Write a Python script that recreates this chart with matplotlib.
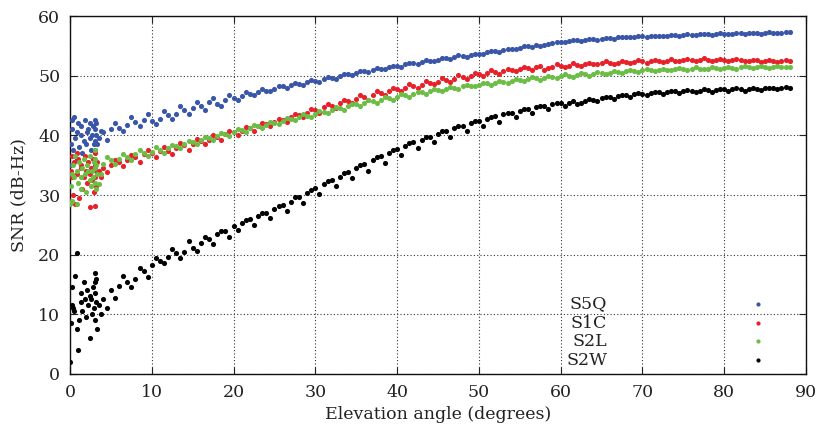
"""SNR vs elevation angle for four GPS signals (gnuplot-like scatter)."""
import matplotlib
matplotlib.use("Agg")
import matplotlib.pyplot as plt

# low-elevation cluster, shared by all signals (degrees)
elev_low = [0.0, 0.1, 0.2, 0.3, 0.4, 0.5, 0.6, 0.8, 0.9, 1.0, 1.1, 1.3, 1.4, 1.5, 1.7, 1.8, 2.0,
            2.1, 2.2, 2.4, 2.5, 2.6, 2.7, 2.8, 2.9, 3.0, 3.0, 3.1, 3.1, 3.2, 3.2, 3.3, 3.5, 3.8]
# first pass of the track
elev_a = [4, 5, 6, 7, 8, 9, 10, 11, 12, 13, 14, 15, 16, 17, 18, 19, 20, 21, 22, 23, 24, 25, 26,
          27, 28, 29, 30, 31, 32, 33, 34, 35, 36, 37, 38, 39, 40, 41, 42, 43, 44, 45, 46, 47, 48,
          49, 50, 51, 52, 53, 54, 55, 56, 57, 58, 59, 60, 61, 62, 63, 64, 65, 66, 67, 68, 69, 70,
          71, 72, 73, 74, 75, 76, 77, 78, 79, 80, 81, 82, 83, 84, 85, 86, 87, 88]
# second pass, in between
elev_b = [4.5, 5.5, 6.5, 7.5, 8.5, 9.5, 10.5, 11.5, 12.5, 13.5, 14.5, 15.5, 16.5, 17.5, 18.5,
          19.5, 20.5, 21.5, 22.5, 23.5, 24.5, 25.5, 26.5, 27.5, 28.5, 29.5, 30.5, 31.5, 32.5,
          33.5, 34.5, 35.5, 36.5, 37.5, 38.5, 39.5, 40.5, 41.5, 42.5, 43.5, 44.5, 45.5, 46.5,
          47.5, 48.5, 49.5, 50.5, 51.5, 52.5, 53.5, 54.5, 55.5, 56.5, 57.5, 58.5, 59.5, 60.5,
          61.5, 62.5, 63.5, 64.5, 65.5, 66.5, 67.5, 68.5, 69.5, 70.5, 71.5, 72.5, 73.5, 74.5,
          75.5, 76.5, 77.5, 78.5, 79.5, 80.5, 81.5, 82.5, 83.5, 84.5, 85.5, 86.5, 87.5]

s5q_low = [35.0, 38.5, 42.5, 41.0, 37.5, 43.0, 39.5, 40.5, 36.0, 42.0, 38.0, 40.0, 41.5, 37.0, 39.0,
           42.5, 38.5, 40.5, 41.0, 39.5, 42.0, 37.5, 40.0, 41.5, 38.5, 42.5, 39.0, 41.0, 37.5, 40.0,
           42.0, 38.5, 39.5, 40.8]
s5q_a = [40.5, 41.0, 41.3, 41.8, 42.2, 42.6, 42.4, 42.8, 43.4, 43.5, 44.2, 44.6, 44.9, 45.6, 45.2,
         46.0, 46.3, 46.6, 46.9, 47.3, 47.5, 47.8, 48.2, 48.4, 48.6, 48.9, 49.1, 49.4, 49.6, 49.9,
         50.2, 50.4, 50.7, 50.9, 51.2, 51.4, 51.6, 51.9, 52.1, 52.3, 52.5, 52.7, 52.9, 53.1, 53.3,
         53.5, 53.7, 53.9, 54.1, 54.3, 54.5, 54.7, 54.9, 55.2, 55.1, 55.4, 55.7, 55.8, 55.9, 56.0,
         56.1, 56.2, 56.3, 56.4, 56.5, 56.5, 56.6, 56.6, 56.7, 56.7, 56.8, 56.8, 56.8, 56.9, 56.9,
         57.0, 57.0, 57.0, 57.1, 57.1, 57.1, 57.2, 57.1, 57.2, 57.3]
s5q_b = [39.2, 42.0, 40.8, 43.0, 41.6, 43.6, 41.9, 44.0, 42.8, 45.0, 43.6, 45.6, 44.3, 46.2, 45.0,
         46.8, 45.9, 47.2, 46.7, 47.7, 47.4, 48.3, 48.0, 48.8, 48.5, 49.3, 49.0, 49.7, 49.5, 50.3,
         50.1, 50.8, 50.6, 51.3, 51.1, 51.7, 51.5, 52.2, 52.0, 52.6, 52.4, 52.9, 52.8, 53.4, 53.2,
         53.7, 53.6, 54.1, 54.0, 54.5, 54.4, 54.9, 54.8, 55.0, 55.3, 55.6, 55.6, 55.9, 55.8, 56.1,
         56.0, 56.3, 56.2, 56.5, 56.4, 56.6, 56.5, 56.7, 56.6, 56.8, 56.7, 56.9, 56.8, 57.0, 56.8,
         57.1, 56.9, 57.1, 57.0, 57.2, 57.0, 57.3, 57.1, 57.3]

s1c_low = [29.0, 34.0, 36.5, 33.0, 30.0, 35.5, 28.5, 37.0, 33.5, 36.0, 29.5, 34.5, 35.0, 31.0, 33.0,
           36.5, 34.0, 32.0, 35.5, 33.5, 28.0, 34.5, 32.5, 36.0, 30.5, 35.0, 33.0, 37.0, 28.2, 34.0,
           31.5, 35.5, 34.0, 33.0]
s1c_a = [34.5, 35.0, 35.6, 35.8, 36.3, 36.8, 37.0, 37.4, 37.3, 37.9, 38.3, 38.6, 39.0, 39.3, 39.8,
         40.2, 40.5, 40.8, 41.2, 41.5, 41.9, 42.2, 42.6, 43.0, 43.4, 43.8, 44.3, 44.7, 45.0, 45.4,
         45.7, 46.1, 46.4, 46.8, 47.1, 47.4, 47.7, 48.0, 48.3, 48.5, 48.8, 49.0, 49.3, 49.5, 49.8,
         50.0, 50.2, 50.4, 50.6, 50.8, 51.0, 51.2, 51.3, 51.4, 51.0, 51.5, 51.6, 51.7, 51.8, 51.9,
         52.0, 52.1, 52.1, 52.2, 52.3, 52.3, 52.4, 52.4, 52.5, 52.5, 52.5, 52.6, 52.6, 52.6, 52.7,
         52.6, 52.6, 52.7, 52.6, 52.5, 52.6, 52.4, 52.5, 52.4, 52.4]
s1c_b = [33.8, 35.9, 34.9, 36.7, 35.6, 37.6, 36.3, 38.1, 36.9, 38.7, 37.6, 39.4, 38.5, 40.0, 39.2,
         40.8, 40.0, 41.4, 40.8, 42.1, 41.6, 42.8, 42.3, 43.6, 43.1, 44.4, 43.8, 45.3, 44.6, 46.0,
         45.4, 46.7, 46.0, 47.4, 46.8, 48.0, 47.4, 48.6, 48.0, 49.1, 48.6, 49.6, 49.0, 50.1, 49.5,
         50.5, 50.0, 50.9, 50.3, 51.2, 50.7, 51.5, 51.0, 51.7, 51.3, 51.9, 51.5, 52.1, 51.7, 52.2,
         51.9, 52.4, 52.0, 52.5, 52.1, 52.6, 52.2, 52.7, 52.3, 52.8, 52.4, 52.8, 52.4, 52.9, 52.5,
         52.8, 52.4, 52.8, 52.4, 52.7, 52.3, 52.7, 52.3, 52.6]

s2l_low = [28.5, 31.5, 33.5, 29.0, 35.0, 33.0, 36.5, 28.5, 34.0, 32.0, 35.5, 33.0, 31.0, 34.5, 36.0,
           33.5, 30.5, 35.0, 34.0, 32.5, 36.5, 31.5, 34.0, 33.0, 35.5, 37.5, 32.0, 34.5, 36.0, 31.0,
           35.0, 33.5, 31.8, 33.5]
s2l_a = [35.2, 35.8, 36.0, 36.4, 36.8, 37.0, 37.2, 37.5, 37.8, 38.2, 38.5, 38.8, 39.2, 39.5, 39.9,
         40.2, 40.6, 40.9, 41.2, 41.5, 41.8, 42.1, 42.4, 42.7, 43.0, 43.3, 43.6, 43.9, 44.3, 44.6,
         44.9, 45.2, 45.5, 45.8, 46.0, 46.3, 46.5, 46.8, 47.0, 47.2, 47.4, 47.6, 47.8, 48.0, 48.2,
         48.3, 48.5, 48.7, 48.8, 49.0, 49.1, 49.3, 49.4, 49.6, 49.6, 49.8, 49.9, 50.0, 50.1, 50.2,
         50.3, 50.4, 50.5, 50.6, 50.7, 50.8, 50.9, 50.9, 51.0, 51.0, 51.1, 51.1, 51.2, 51.2, 51.2,
         51.3, 51.3, 51.3, 51.4, 51.4, 51.4, 51.5, 51.5, 51.5, 51.5]
s2l_b = [36.3, 35.2, 36.9, 35.9, 37.5, 36.6, 38.0, 37.1, 38.4, 37.8, 39.0, 38.5, 39.7, 39.2, 40.4,
         39.9, 41.1, 40.6, 41.7, 41.2, 42.3, 41.9, 42.9, 42.5, 43.5, 43.1, 44.1, 43.7, 44.7, 44.3,
         45.3, 44.9, 45.9, 45.5, 46.4, 46.0, 46.9, 46.5, 47.3, 47.0, 47.7, 47.4, 48.1, 47.8, 48.5,
         48.2, 48.8, 48.5, 49.1, 48.8, 49.4, 49.1, 49.7, 49.3, 49.9, 49.6, 50.2, 49.8, 50.4, 50.0,
         50.6, 50.2, 50.8, 50.4, 50.9, 50.6, 51.1, 50.7, 51.2, 50.9, 51.3, 51.0, 51.4, 51.1, 51.5,
         51.1, 51.5, 51.2, 51.6, 51.3, 51.7, 51.3, 51.7, 51.4]

s2w_low = [2.0, 8.5, 11.5, 14.5, 11.0, 10.5, 16.5, 20.2, 7.5, 4.0, 9.0, 12.0, 13.5, 10.5, 15.5,
           12.5, 9.5, 14.0, 11.5, 13.0, 6.0, 12.5, 10.0, 14.5, 11.0, 17.0, 13.5, 9.0, 15.5, 12.0,
           16.0, 7.5, 11.5, 10.0]
s2w_a = [12.5, 14.0, 14.8, 15.5, 16.0, 17.2, 18.2, 19.0, 19.6, 20.2, 20.5, 21.2, 22.0, 22.6, 23.4,
         24.0, 24.8, 25.3, 25.9, 26.5, 27.0, 27.6, 28.3, 28.9, 29.7, 30.4, 31.2, 31.8, 32.5, 33.1,
         33.8, 34.5, 35.2, 35.8, 36.5, 37.1, 37.7, 38.2, 38.8, 39.3, 39.8, 40.3, 40.7, 41.2, 41.6,
         42.0, 42.4, 42.8, 43.2, 43.5, 43.8, 44.1, 44.4, 44.7, 45.0, 45.2, 45.4, 45.5, 45.3, 45.8,
         46.0, 46.2, 46.4, 46.6, 46.8, 46.9, 47.0, 47.1, 47.2, 47.3, 47.4, 47.4, 47.5, 47.5, 47.6,
         47.6, 47.7, 47.7, 47.8, 47.8, 47.8, 47.9, 47.9, 48.0, 48.0]
s2w_b = [11.0, 12.8, 16.5, 14.6, 17.8, 16.2, 19.5, 18.6, 21.0, 19.4, 22.3, 20.6, 23.0, 21.8, 23.9,
         23.0, 24.2, 25.8, 24.9, 26.9, 26.2, 28.2, 27.4, 29.6, 28.7, 30.9, 30.1, 32.4, 31.5, 33.7,
         32.9, 35.0, 34.1, 36.3, 35.4, 37.6, 36.7, 38.7, 37.8, 39.7, 38.9, 40.7, 39.8, 41.6, 40.7,
         42.4, 41.5, 43.1, 42.3, 43.8, 43.0, 44.4, 43.7, 45.0, 44.4, 45.4, 44.9, 45.7, 45.5, 46.1,
         45.8, 46.5, 46.1, 46.8, 46.5, 47.1, 46.7, 47.3, 46.9, 47.5, 47.1, 47.6, 47.2, 47.7, 47.3,
         47.8, 47.4, 47.9, 47.5, 47.9, 47.6, 48.0, 47.7, 48.1]

series = [
    ("S5Q", "#3a56a8", s5q_low, s5q_a, s5q_b),
    ("S1C", "#e8202a", s1c_low, s1c_a, s1c_b),
    ("S2L", "#6cbd45", s2l_low, s2l_a, s2l_b),
    ("S2W", "#000000", s2w_low, s2w_a, s2w_b),
]

plt.rcParams["font.family"] = ["DejaVu Serif"]
fig = plt.figure(figsize=(8.19, 4.30), dpi=100)
ax = fig.add_axes([70 / 819, 56 / 430, 736 / 819, 358 / 430])

for name, color, low, a, b in series:
    for xs, ys in ((elev_low, low), (elev_a, a), (elev_b, b)):
        ax.plot(xs, ys, "o", color=color, markersize=3.7, markeredgewidth=0, zorder=3)

ax.set_xlim(0, 90)
ax.set_ylim(0, 60)
ax.set_xticks(range(0, 91, 10))
ax.set_yticks(range(0, 61, 10))
ax.grid(True, color="#333333", linestyle=(0, (1, 2)), linewidth=0.8)
ax.tick_params(direction="in", top=True, right=True, length=5, width=0.8,
               labelsize=12.5, colors="#222222", pad=7)
for sp in ax.spines.values():
    sp.set_linewidth(1.0)
    sp.set_color("#111111")
ax.set_xlabel("Elevation angle (degrees)", fontsize=12.5, color="#222222", labelpad=4)
ax.set_ylabel("SNR (dB-Hz)", fontsize=12.5, color="#222222", labelpad=8)

# gnuplot-style key: right-aligned labels, marker to the right
key_rows = [0.196, 0.142, 0.091, 0.039]
for (name, color, *_), ky in zip(series, key_rows):
    ax.text(0.730, ky, name, transform=ax.transAxes, ha="right", va="center",
            fontsize=12.5, color="#222222", zorder=4)
    ax.plot([0.935], [ky], "o", color=color, markersize=3.0, markeredgewidth=0,
            transform=ax.transAxes, clip_on=False, zorder=4)

fig.savefig("out.png", dpi=100)
